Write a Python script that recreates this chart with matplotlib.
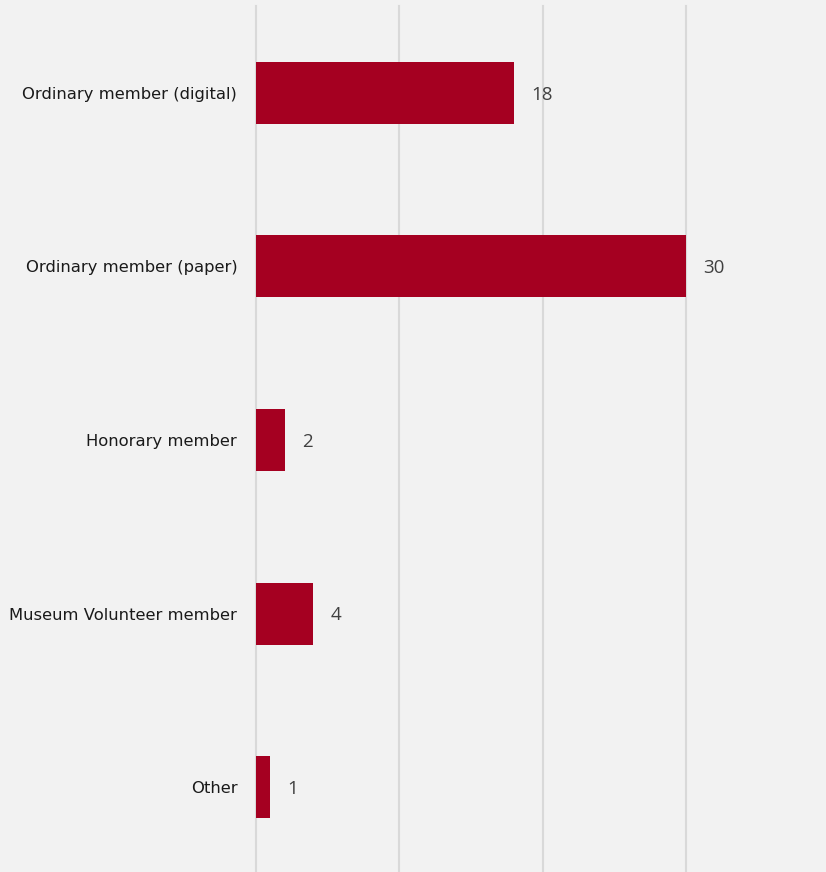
import matplotlib
matplotlib.use("Agg")
import matplotlib.pyplot as plt

categories = ["Ordinary member (digital)", "Ordinary member (paper)",
              "Honorary member", "Museum Volunteer member", "Other"]
counts = [18, 30, 2, 4, 1]

bg = "#f2f2f2"
bar_color = "#a50021"

fig = plt.figure(figsize=(8.26, 8.72), dpi=100, facecolor=bg)
W, H = 826, 872
left, right = 256, 256 + 40 * 14.333
top, bottom = 6, 874
ax = fig.add_axes([left / W, (H - bottom) / H, (right - left) / W, (bottom - top) / H])
ax.set_facecolor(bg)

ypos = list(range(len(categories)))
ax.barh(ypos, counts, height=0.357, color=bar_color, zorder=3)

for y, v in zip(ypos, counts):
    ax.text(v + 1.2, y + 0.01, str(v), va="center", ha="left",
            fontsize=13.5, color="#404040", family="Open Sans")

ax.set_xlim(0, 40)
ax.set_ylim(len(categories) - 0.5, -0.5)
ax.set_xticks([0, 10, 20, 30])
ax.xaxis.grid(True, color="#d9d9d9", linewidth=1.5, zorder=0)
for gl in ax.get_xgridlines():
    gl.set_clip_on(False)
ax.tick_params(axis="x", bottom=False, labelbottom=False)
ax.set_yticks(ypos)
ax.set_yticklabels(categories, fontsize=11.8, color="#1a1a1a", family="DejaVu Sans")
ax.tick_params(axis="y", left=False, pad=10)
for s in ax.spines.values():
    s.set_visible(False)

fig.savefig("out.png", dpi=100, facecolor=bg)
